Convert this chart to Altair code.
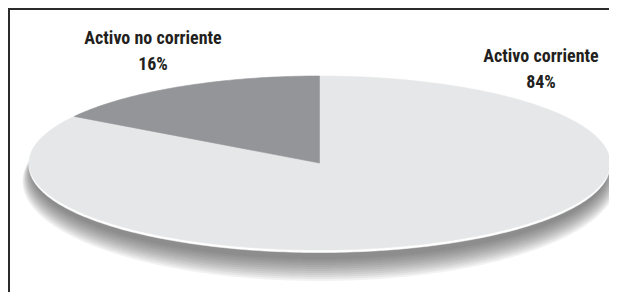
import altair as alt
import numpy as np
import pandas as pd

# ---- data ----
categories = ["Activo corriente", "Activo no corriente"]
shares = [84, 16]
pct_labels = ["84%", "16%"]

# ---- style / layout ----
slice_colors = ["#e6e7e8", "#939598"]
W, H = 601, 284
CX, CY, RX, RY = 311.5, 155.0, 290.5, 87.0      # ellipse centre / radii in px
x_dom = [-CX / RX, (W - CX) / RX]
y_dom = [-(H - CY) / RY, CY / RY]
label_px = {"Activo corriente": (533, 54), "Activo no corriente": (145, 36)}
FONT = "Roboto Condensed, DejaVu Sans Condensed, Liberation Sans Narrow, Roboto, sans-serif"

xs = alt.X("x:Q", scale=alt.Scale(domain=x_dom, nice=False, zero=False), axis=None)
ys = alt.Y("y:Q", scale=alt.Scale(domain=y_dom, nice=False, zero=False), axis=None)

# pie slices (clockwise from 12 o'clock), unit circle in data space
rows = []
total = float(sum(shares))
start = 0.0
for cat, s in zip(categories, shares):
    end = start + s / total * 2 * np.pi
    n = max(int(s / total * 400), 8)
    phis = np.linspace(start, end, n)
    pts = [(0.0, 0.0)] + [(np.sin(p), np.cos(p)) for p in phis] + [(0.0, 0.0)]
    for i, (x, y) in enumerate(pts):
        rows.append({"cat": cat, "i": i, "x": x, "y": y})
    start = end
slices = pd.DataFrame(rows)

# outline of the whole disc
phis = np.linspace(0, 2 * np.pi, 361)
outline = pd.DataFrame({"i": np.arange(len(phis)), "x": np.sin(phis), "y": np.cos(phis)})

# soft drop shadow: nested ellipses
K = 12
srows = []
for k in range(K):
    t = k / (K - 1)
    ry_k, dy_k, rx_k = 88.5 + 11 * t, 7.5 + 11 * t, 288 + 9 * t
    for i, p in enumerate(phis):
        srows.append({"k": k, "i": i,
                      "x": np.sin(p) * rx_k / RX,
                      "y": np.cos(p) * ry_k / RY - dy_k / RY})
shadow_df = pd.DataFrame(srows)

shadow = alt.Chart(shadow_df).mark_line(
    fill="#3c3d40", stroke=None, opacity=0.068
).encode(x=xs, y=ys, detail="k:N", order="i:Q")

rim = alt.Chart(outline).mark_line(
    fill="#ffffff", stroke="#ffffff", strokeWidth=0.5, yOffset=2.5
).encode(x=xs, y=ys, order="i:Q")

pie = alt.Chart(slices).mark_line(strokeWidth=0.6).encode(
    x=xs, y=ys, order="i:Q",
    fill=alt.Fill("cat:N", scale=alt.Scale(domain=categories, range=slice_colors), legend=None),
    stroke=alt.Stroke("cat:N", scale=alt.Scale(domain=categories, range=slice_colors), legend=None),
)

lab = pd.DataFrame({
    "txt": [f"{c}\n{p}" for c, p in zip(categories, pct_labels)],
    "lx": [label_px[c][0] for c in categories],
    "ly": [label_px[c][1] for c in categories],
})
labels = alt.Chart(lab).mark_text(
    font=FONT, fontSize=18, fontWeight="bold", color="#231f20",
    align="center", baseline="alphabetic", lineBreak="\n", lineHeight=26
).encode(x=alt.X("lx:Q", scale=None), y=alt.Y("ly:Q", scale=None), text="txt:N")

border_l = alt.Chart(lab).mark_rule(color="#2b2b2b", strokeWidth=2).encode(
    x=alt.value(1), y=alt.value(0), y2=alt.value(H))
border_t = alt.Chart(lab).mark_rule(color="#2b2b2b", strokeWidth=2).encode(
    x=alt.value(0), x2=alt.value(W), y=alt.value(1))

chart = alt.layer(shadow, rim, pie, labels, border_l, border_t).properties(
    width=W, height=H, padding=0, autosize=alt.AutoSizeParams(type="none")
).configure_view(stroke=None)

chart.save("out.html", embed_options={"renderer": "svg", "actions": False})
